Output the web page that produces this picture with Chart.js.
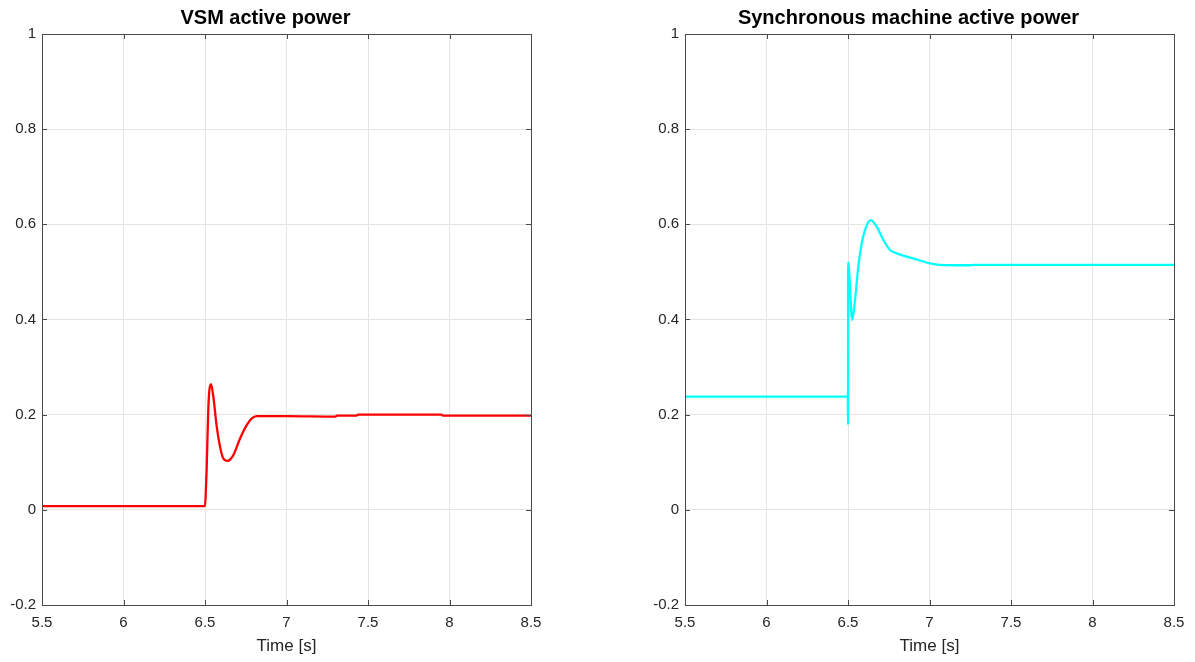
<!DOCTYPE html>
<html>
<head>
<meta charset="utf-8">
<script src="https://cdn.jsdelivr.net/npm/chart.js@4/dist/chart.umd.min.js"></script>
<style>
  body { margin: 0; background: #fff; }
  .pane { position: absolute; top: 0; height: 662px; }
  #left { left: 0; width: 560px; }
  #right { left: 643px; width: 552px; }
</style>
</head>
<body>
<div class="pane" id="left"><canvas id="vsmChart"></canvas></div>
<div class="pane" id="right"><canvas id="smChart"></canvas></div>
<script>
// tick labels
const xTicks = [5.5, 6, 6.5, 7, 7.5, 8, 8.5]
const yTicks = [-0.2, 0, 0.2, 0.4, 0.6, 0.8, 1]

// VSM active power
const vsmTime = [5.5, 6.5, 6.504, 6.51, 6.52, 6.527, 6.537, 6.551, 6.572, 6.592, 6.612, 6.639, 6.674, 6.715, 6.756, 6.787, 6.818, 7.0, 7.3, 7.31, 7.43, 7.44, 7.95, 7.96, 8.5]
const vsmPower = [0.008, 0.008, 0.03, 0.084, 0.21, 0.252, 0.264, 0.238, 0.175, 0.133, 0.108, 0.103, 0.115, 0.15, 0.178, 0.192, 0.197, 0.197, 0.196, 0.198, 0.198, 0.2, 0.2, 0.198, 0.198]

// Synchronous machine active power (right plot)
const smTime = [5.5, 6.499, 6.5, 6.501, 6.526, 6.543, 6.563, 6.584, 6.604, 6.639, 6.676, 6.717, 6.758, 6.799, 6.86, 6.942, 7.003, 7.064, 7.248, 7.27, 8.5]
const smPower = [0.238, 0.238, 0.18, 0.52, 0.399, 0.441, 0.511, 0.56, 0.588, 0.609, 0.595, 0.567, 0.546, 0.539, 0.532, 0.524, 0.518, 0.515, 0.514, 0.515, 0.515]

const textColor = '#262626'
const tickFont = { family: 'Liberation Sans, Arial, sans-serif', size: 15 }

// matlab-like box plus inward tick marks
const boxPlugin = {
  id: 'matBox',
  afterDraw(chart) {
    const { ctx, chartArea: a, scales } = chart
    ctx.save()
    ctx.strokeStyle = '#4a4a4a'
    ctx.lineWidth = 1
    ctx.beginPath()
    xTicks.forEach(v => {
      const px = Math.round(scales.x.getPixelForValue(v)) + 0.5
      ctx.moveTo(px, a.top); ctx.lineTo(px, a.top + 5)
      ctx.moveTo(px, a.bottom); ctx.lineTo(px, a.bottom - 5)
    })
    yTicks.forEach(v => {
      const py = Math.round(scales.y.getPixelForValue(v)) + 0.5
      ctx.moveTo(a.left, py); ctx.lineTo(a.left + 5, py)
      ctx.moveTo(a.right, py); ctx.lineTo(a.right - 5, py)
    })
    ctx.stroke()
    ctx.strokeRect(Math.round(a.left) + 0.5, Math.round(a.top) + 0.5, Math.round(a.right - a.left), Math.round(a.bottom - a.top))
    ctx.restore()
  }
}

function makeChart(canvasId, title, times, values, color, padRight) {
  const points = times.map((t, i) => ({ x: t, y: values[i] }))
  return new Chart(document.getElementById(canvasId), {
    type: 'line',
    data: {
      datasets: [{
        data: points,
        borderColor: color,
        borderWidth: 2.3,
        pointRadius: 0,
        cubicInterpolationMode: 'monotone',
        fill: false
      }]
    },
    options: {
      responsive: true,
      maintainAspectRatio: false,
      animation: false,
      layout: { padding: { left: 0, right: padRight, top: 0, bottom: 0 } },
      plugins: {
        legend: { display: false },
        tooltip: { enabled: false },
        title: {
          display: true,
          text: title,
          color: '#000',
          font: { family: 'Liberation Sans, Arial, sans-serif', size: 20, weight: 'bold' },
          padding: { top: 6.3, bottom: 3.7 }
        }
      },
      scales: {
        x: {
          type: 'linear',
          min: 5.5,
          max: 8.5,
          afterBuildTicks: s => { s.ticks = xTicks.map(v => ({ value: v })) },
          afterFit: s => { s.height = 57 },
          ticks: { color: textColor, font: tickFont, padding: 9, maxRotation: 0, callback: v => String(v) },
          grid: { color: '#e4e4e4', drawTicks: false },
          border: { display: false },
          title: {
            display: true,
            text: 'Time [s]',
            color: textColor,
            font: { family: 'Liberation Sans, Arial, sans-serif', size: 17 },
            padding: { top: 0, bottom: 5.3 }
          }
        },
        y: {
          min: -0.2,
          max: 1,
          afterBuildTicks: s => { s.ticks = yTicks.map(v => ({ value: v })) },
          afterFit: s => { s.width = 42 },
          ticks: { color: textColor, font: tickFont, padding: 6, callback: v => String(v) },
          grid: { color: '#e4e4e4', drawTicks: false },
          border: { display: false }
        }
      }
    },
    plugins: [boxPlugin]
  })
}

makeChart('vsmChart', 'VSM active power', vsmTime, vsmPower, '#ff0000', 29)
makeChart('smChart', 'Synchronous machine active power', smTime, smPower, '#00ffff', 21)
</script>
</body>
</html>
